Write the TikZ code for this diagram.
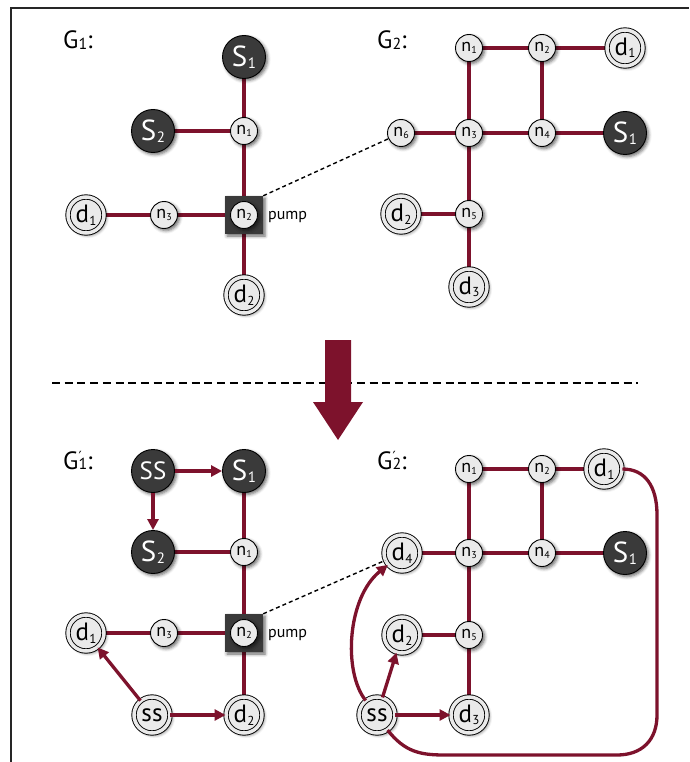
\documentclass[tikz,border=0pt]{standalone}
\usepackage{fontspec}
\setmainfont{PT Sans}
\newfontfamily\primefont{DejaVu Sans}
\usetikzlibrary{arrows.meta,shadows.blur}

\definecolor{wine}{RGB}{125,18,44}
\definecolor{nodegray}{RGB}{234,234,234}
\definecolor{darknode}{RGB}{58,58,58}

\pgfdeclarelayer{bg}
\pgfsetlayers{bg,main}

% labels with small indices
\newcommand\nlab[1]{n\kern0.2pt\raisebox{-2pt}{\fontsize{10}{10}\selectfont #1}}
\newcommand\dlab[1]{d\kern0.2pt\raisebox{-2.5pt}{\fontsize{13}{13}\selectfont #1}}
\newcommand\slab[1]{S\kern0.5pt\raisebox{-1.5pt}{\fontsize{15}{15}\selectfont #1}}
\newcommand\glab[1]{G\raisebox{-0.5pt}{\fontsize{16}{16}\selectfont #1}:}
\newcommand\gplab[1]{G\rlap{\raisebox{8pt}{\fontsize{14}{14}\selectfont\primefont ′}}\raisebox{-0.5pt}{\fontsize{16}{16}\selectfont #1}:}

\tikzset{
  softshadow/.style={blur shadow={shadow xshift=2pt, shadow yshift=-2pt,
      shadow blur radius=3.2pt, shadow opacity=60}},
  nnode/.style={circle, draw=black, line width=0.9pt, fill=nodegray,
      minimum size=27pt, inner sep=0pt, font=\fontsize{18}{18}\selectfont, softshadow},
  dnode/.style={circle, draw=black, line width=0.9pt, double=nodegray,
      double distance=3.5pt, fill=nodegray, minimum size=36pt, inner sep=0pt,
      font=\fontsize{25}{25}\selectfont, softshadow},
  snode/.style={circle, draw=black, line width=0.9pt, fill=darknode, text=white,
      minimum size=43pt, inner sep=0pt, font=\fontsize{29}{29}\selectfont, softshadow},
  pumpbox/.style={rectangle, fill=darknode, minimum size=38pt, inner sep=0pt, softshadow},
  pumptext/.style={font=\fontsize{16}{16}\selectfont, inner sep=0pt},
  glabel/.style={font=\fontsize{25}{25}\selectfont, inner sep=0pt, anchor=base west},
  edge/.style={draw=wine, line width=3.3pt},
  arrowedge/.style={edge, -{Triangle[length=11pt,width=11pt]}},
  dashlink/.style={draw=black, line width=1.4pt, dash pattern=on 4pt off 3pt},
  separator/.style={draw=black, line width=2pt, dash pattern=on 8pt off 4.7pt},
}

\begin{document}
\begin{tikzpicture}[x=1pt, y=-1pt]
\useasboundingbox (0,0) rectangle (689,762);

% frame
\draw[line width=1.2pt, black!85] (11,762) -- (11,8) -- (689,8);

% ---------- G1 ----------
\node[glabel] (ga) at (63,49) {\glab{1}};
\node[snode] (as1) at (244,57) {\slab1};
\node[snode] (as2) at (153,131) {\slab2};
\node[nnode] (an1) at (244,131) {\nlab1};
\node[pumpbox] (apump) at (244,215) {};
\node[nnode] (an2) at (244,215) {\nlab2};
\node[pumptext, anchor=base west] (apumplab) at (268,219) {pump};
\node[nnode] (an3) at (164,215) {\nlab3};
\node[dnode] (ad1) at (86,215) {\dlab1};
\node[dnode] (ad2) at (244,295) {\dlab2};

% ---------- G2 ----------
\node[glabel] (gb) at (377,49) {\glab{2}};
\node[nnode] (bn1) at (469,48) {\nlab1};
\node[nnode] (bn2) at (542,48) {\nlab2};
\node[dnode] (bd1) at (625,48) {\dlab1};
\node[nnode] (bn6) at (401,133) {\nlab6};
\node[nnode] (bn3) at (469,133) {\nlab3};
\node[nnode] (bn4) at (542,133) {\nlab4};
\node[snode] (bs1) at (625,133) {\slab1};
\node[dnode] (bd2) at (401,214) {\dlab2};
\node[nnode] (bn5) at (469,214) {\nlab5};
\node[dnode] (bd3) at (469,287) {\dlab3};

% ---------- G1' ----------
\node[glabel] (gc) at (63,469) {\gplab{1}};
\node[snode, font=\fontsize{25}{25}\selectfont] (css) at (153,471) {SS};
\node[snode] (cs1) at (244,471) {\slab1};
\node[snode] (cs2) at (153,552) {\slab2};
\node[nnode] (cn1) at (244,552) {\nlab1};
\node[pumpbox] (cpump) at (244,633) {};
\node[nnode] (cn2) at (244,633) {\nlab2};
\node[pumptext, anchor=base west] (cpumplab) at (268,637) {pump};
\node[nnode] (cn3) at (164,633) {\nlab3};
\node[dnode] (cd1) at (86,633) {\dlab1};
\node[dnode] (css2) at (152,715) {ss};
\node[dnode] (cd2) at (244,715) {\dlab2};

% ---------- G2' ----------
\node[glabel] (ge) at (377,469) {\gplab{2}};
\node[nnode] (en1) at (469,469) {\nlab1};
\node[nnode] (en2) at (542,469) {\nlab2};
\node[dnode] (ed1) at (604,469) {\dlab1};
\node[dnode] (ed4) at (402,553) {\dlab4};
\node[nnode] (en3) at (469,553) {\nlab3};
\node[nnode] (en4) at (542,553) {\nlab4};
\node[snode] (es1) at (625,553) {\slab1};
\node[dnode] (ed2) at (402,635) {\dlab2};
\node[nnode] (en5) at (469,635) {\nlab5};
\node[dnode] (ess) at (377,715) {ss};
\node[dnode] (ed3) at (469,715) {\dlab3};

% separator and transformation arrow
\coordinate (sepl) at (52,383);
\coordinate (sepr) at (638,383);
\draw[separator] (sepl) -- (sepr);
\fill[wine] (325,340) -- (351,340) -- (351,402) -- (363,402) -- (338,440)
  -- (313,402) -- (325,402) -- cycle;

\begin{pgfonlayer}{bg}
  % G1 pipes
  \draw[edge] (as1) -- (an1);
  \draw[edge] (as2) -- (an1);
  \draw[edge] (an1) -- (an2);
  \draw[edge] (an3) -- (an2);
  \draw[edge] (ad1) -- (an3);
  \draw[edge] (an2) -- (ad2);
  % G2 pipes
  \draw[edge] (bn1) -- (bn2);
  \draw[edge] (bn2) -- (bd1);
  \draw[edge] (bn1) -- (bn3);
  \draw[edge] (bn2) -- (bn4);
  \draw[edge] (bn6) -- (bn3);
  \draw[edge] (bn3) -- (bn4);
  \draw[edge] (bn4) -- (bs1);
  \draw[edge] (bn3) -- (bn5);
  \draw[edge] (bd2) -- (bn5);
  \draw[edge] (bn5) -- (bd3);
  % G1' pipes
  \draw[edge] (cs1) -- (cn1);
  \draw[edge] (cs2) -- (cn1);
  \draw[edge] (cn1) -- (cn2);
  \draw[edge] (cn3) -- (cn2);
  \draw[edge] (cd1) -- (cn3);
  \draw[edge] (cn2) -- (cd2);
  % G2' pipes
  \draw[edge] (en1) -- (en2);
  \draw[edge] (en2) -- (ed1);
  \draw[edge] (en1) -- (en3);
  \draw[edge] (en2) -- (en4);
  \draw[edge] (ed4) -- (en3);
  \draw[edge] (en3) -- (en4);
  \draw[edge] (en4) -- (es1);
  \draw[edge] (en3) -- (en5);
  \draw[edge] (ed2) -- (en5);
  \draw[edge] (en5) -- (ed3);
\end{pgfonlayer}

% interface links between the two networks
\draw[dashlink] (apump.north east) -- (bn6);
\draw[dashlink] (cpump.north east) -- (ed4);

% super source / super sink arcs
\draw[arrowedge] (css) -- (cs1);
\draw[arrowedge] (css) -- (cs2);
\draw[arrowedge] (css2) -- (cd1);
\draw[arrowedge] (css2) -- (cd2);
\draw[arrowedge] (ess) -- (ed3);
\draw[arrowedge] (ess) -- (ed2);
\draw[arrowedge] (ess.128) .. controls (343,672) and (347,598) .. (ed4.220);
\draw[edge] (ess.-55) .. controls (405,752) and (420,755) .. (445,755)
  -- (617,755) .. controls (642,755) and (657,740) .. (657,715)
  -- (657,515) .. controls (657,486) and (645,469) .. (ed1.east);
\end{tikzpicture}
\end{document}
